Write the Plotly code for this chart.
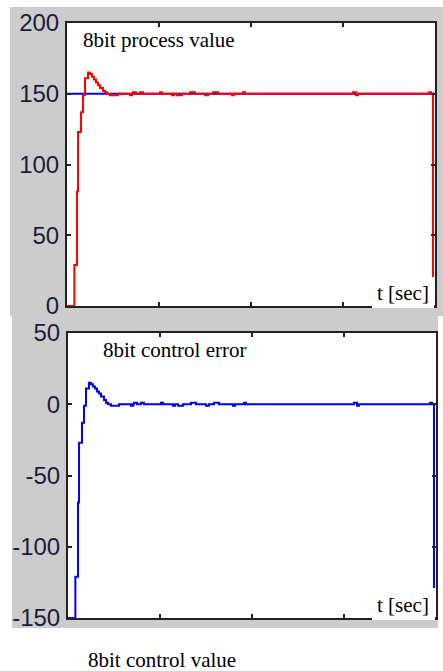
import plotly.graph_objects as go

# ---- data ----
t_sec = [0.0, 0.080, 0.109, 0.120, 0.152, 0.174, 0.196, 0.228, 0.250, 0.272, 0.293,
         0.315, 0.337, 0.359, 0.391, 0.413, 0.435, 0.467, 0.554, 0.685, 0.707, 0.717,
         0.750, 0.793, 0.826, 1.011, 1.033, 1.141, 1.163, 1.196, 1.250, 1.337, 1.391,
         1.500, 1.533, 1.587, 1.641, 1.793, 1.815, 1.913, 1.935, 3.109, 3.141, 3.163,
         3.935, 3.957, 3.978, 4.0]
process_value = [0, 29, 81, 123, 137, 149, 161, 165, 164, 162, 160,
                 158, 156, 154, 152, 151, 150, 149, 150, 149, 150, 151,
                 150, 151, 150, 151, 150, 149, 150, 149, 150, 151, 150,
                 149, 150, 151, 150, 149, 150, 151, 150, 151, 149, 150,
                 151, 150, 0, 0]
control_error = [-150, -121, -69, -27, -13, -1, 11, 15, 14, 12.5, 11,
                 9, 7.5, 5.5, 3, 1, 0, -1, 0, -1, 0, 1,
                 0, 1, 0, 1, 0, -1, 0, -1, 0, 1, 0,
                 -1, 0, 1, 0, -1, 0, 1, 0, 1, -1, 0,
                 1, 0, -150, -150]
setpoint_t = [0.0, 4.0]
setpoint = [150, 150]

pv_ticks = [0, 50, 100, 150, 200]
pv_tick_labels = ["0", "50", "100", "150", "200"]
err_ticks = [-150, -100, -50, 0, 50]
err_tick_labels = ["-150", "-100", "-50", "0", "50"]
x_ticks = [1, 2, 3]

W, H = 443, 671


def px(x):
    return x / W


def py(y):
    return 1 - y / H


fig = go.Figure()
fig.add_trace(go.Scatter(x=setpoint_t, y=setpoint, mode="lines", line=dict(color="#0000ff", width=2),
                         xaxis="x", yaxis="y", showlegend=False))
fig.add_trace(go.Scatter(x=t_sec, y=process_value, mode="lines", line=dict(color="#ff0000", width=2, shape="hv"),
                         xaxis="x", yaxis="y", showlegend=False))
fig.add_trace(go.Scatter(x=t_sec, y=control_error, mode="lines", line=dict(color="#0000ff", width=2, shape="hv"),
                         xaxis="x2", yaxis="y2", showlegend=False))

axis_common = dict(showline=True, linecolor="#222222", linewidth=2, mirror="ticks", ticks="inside",
                   ticklen=4, tickwidth=2, tickcolor="#222222", showgrid=False, zeroline=False,
                   automargin=False)
tick_font = dict(family="Liberation Sans, Arial, sans-serif", size=24, color="#1c1c3a")

P1 = (67, 435, 23, 306)   # left, right, top, bottom (px)
P2 = (68, 436, 333, 618)

fig.update_layout(
    template="none",
    width=W, height=H, margin=dict(l=0, r=0, t=0, b=0, autoexpand=False),
    paper_bgcolor="white", plot_bgcolor="white",
    xaxis=dict(domain=[px(P1[0]), px(P1[1])], range=[0, 4], tickvals=x_ticks, showticklabels=False,
               anchor="y", **axis_common),
    yaxis=dict(domain=[py(P1[3]), py(P1[2])], range=[0, 200], tickvals=pv_ticks, ticktext=pv_tick_labels,
               tickfont=tick_font, anchor="x", ticklabelstandoff=1, **axis_common),
    xaxis2=dict(domain=[px(P2[0]), px(P2[1])], range=[0, 4], tickvals=x_ticks, showticklabels=False,
                anchor="y2", **axis_common),
    yaxis2=dict(domain=[py(P2[3]), py(P2[2])], range=[-150, 50], tickvals=err_ticks, ticktext=err_tick_labels,
                tickfont=tick_font, anchor="x2", ticklabelstandoff=1, **axis_common),
)

shapes = [
    dict(type="rect", xref="paper", yref="paper", x0=px(10), x1=px(443), y0=py(316), y1=py(7),
         fillcolor="#cccccc", line=dict(width=0), layer="below"),
    dict(type="rect", xref="paper", yref="paper", x0=px(12), x1=px(438), y0=py(628), y1=py(316),
         fillcolor="#cccccc", line=dict(width=0), layer="below"),
    dict(type="rect", xref="paper", yref="paper", x0=px(P1[0]), x1=px(P1[1]), y0=py(P1[3]), y1=py(P1[2]),
         fillcolor="white", line=dict(width=0), layer="below"),
    dict(type="rect", xref="paper", yref="paper", x0=px(P2[0]), x1=px(P2[1]), y0=py(P2[3]), y1=py(P2[2]),
         fillcolor="white", line=dict(width=0), layer="below"),
    dict(type="rect", xref="paper", yref="paper", x0=px(372), x1=px(434), y0=py(308), y1=py(277),
         fillcolor="white", line=dict(width=0), layer="above"),
    dict(type="rect", xref="paper", yref="paper", x0=px(372), x1=px(435), y0=py(620), y1=py(588),
         fillcolor="white", line=dict(width=0), layer="above"),
]
fig.update_layout(shapes=shapes)

serif = dict(family="Liberation Serif, Times New Roman, serif", size=21, color="black")
annos = [
    ("8bit process value", 82, 40),
    ("8bit control error", 102, 350),
    ("t [sec]", 376, 293),
    ("t [sec]", 376, 605),
    ("8bit control value", 87, 660),
]
fig.update_layout(annotations=[
    dict(text=s, xref="paper", yref="paper", x=px(x), y=py(y), xanchor="left", yanchor="middle",
         showarrow=False, font=serif, xshift=-1)
    for s, x, y in annos
])

fig.write_html("out.html", config={"displayModeBar": False},
               post_script="document.body.style.margin='0';document.body.style.overflow='hidden';")
